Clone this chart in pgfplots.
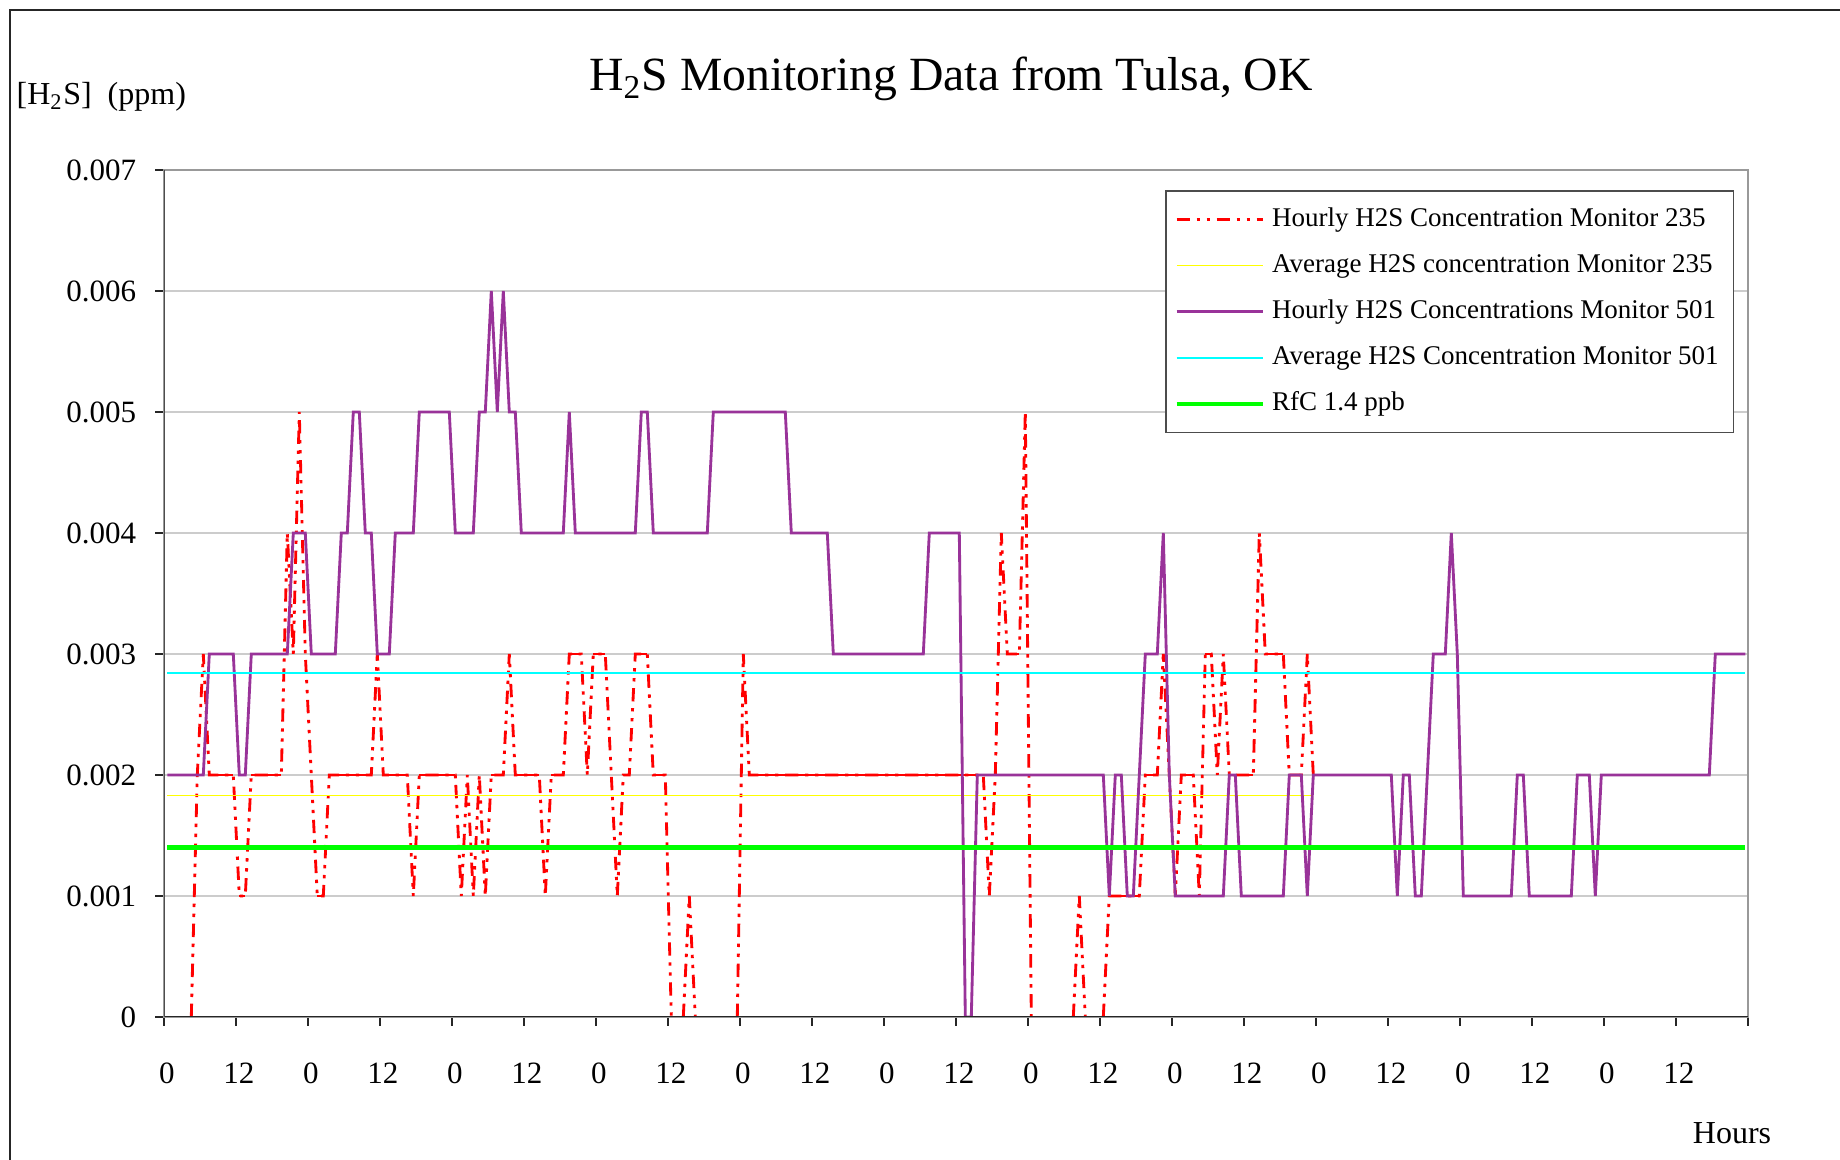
\documentclass[border=0pt]{standalone}
\usepackage{pgfplots}
\pgfplotsset{compat=1.18}
\usepackage{pgfplotstable}
\usepackage{fontspec}
\setmainfont{Liberation Serif}

\definecolor{excelred}{RGB}{255,0,0}
\definecolor{plum}{RGB}{153,51,153}
\definecolor{avgyellow}{RGB}{255,255,0}
\definecolor{avgcyan}{RGB}{0,255,255}
\definecolor{rfcgreen}{RGB}{0,255,0}

% h = hour index, r = Monitor 235 (ppm), p = Monitor 501 (ppm)
\pgfplotstableread[row sep=\\]{
h r p\\
0 nan 0.002\\ 1 nan 0.002\\ 2 nan 0.002\\ 3 nan 0.002\\ 4 0 0.002\\ 5 0.002 0.002\\ 6 0.003 0.002\\ 7 0.002 0.003\\
8 0.002 0.003\\ 9 0.002 0.003\\ 10 0.002 0.003\\ 11 0.002 0.003\\ 12 0.001 0.002\\ 13 0.001 0.002\\ 14 0.002 0.003\\ 15 0.002 0.003\\
16 0.002 0.003\\ 17 0.002 0.003\\ 18 0.002 0.003\\ 19 0.002 0.003\\ 20 0.004 0.003\\ 21 0.003 0.004\\ 22 0.005 0.004\\ 23 0.003 0.004\\
24 0.002 0.003\\ 25 0.001 0.003\\ 26 0.001 0.003\\ 27 0.002 0.003\\ 28 0.002 0.003\\ 29 0.002 0.004\\ 30 0.002 0.004\\ 31 0.002 0.005\\
32 0.002 0.005\\ 33 0.002 0.004\\ 34 0.002 0.004\\ 35 0.003 0.003\\ 36 0.002 0.003\\ 37 0.002 0.003\\ 38 0.002 0.004\\ 39 0.002 0.004\\
40 0.002 0.004\\ 41 0.001 0.004\\ 42 0.002 0.005\\ 43 0.002 0.005\\ 44 0.002 0.005\\ 45 0.002 0.005\\ 46 0.002 0.005\\ 47 0.002 0.005\\
48 0.002 0.004\\ 49 0.001 0.004\\ 50 0.002 0.004\\ 51 0.001 0.004\\ 52 0.002 0.005\\ 53 0.001 0.005\\ 54 0.002 0.006\\ 55 0.002 0.005\\
56 0.002 0.006\\ 57 0.003 0.005\\ 58 0.002 0.005\\ 59 0.002 0.004\\ 60 0.002 0.004\\ 61 0.002 0.004\\ 62 0.002 0.004\\ 63 0.001 0.004\\
64 0.002 0.004\\ 65 0.002 0.004\\ 66 0.002 0.004\\ 67 0.003 0.005\\ 68 0.003 0.004\\ 69 0.003 0.004\\ 70 0.002 0.004\\ 71 0.003 0.004\\
72 0.003 0.004\\ 73 0.003 0.004\\ 74 0.002 0.004\\ 75 0.001 0.004\\ 76 0.002 0.004\\ 77 0.002 0.004\\ 78 0.003 0.004\\ 79 0.003 0.005\\
80 0.003 0.005\\ 81 0.002 0.004\\ 82 0.002 0.004\\ 83 0.002 0.004\\ 84 0 0.004\\ 85 nan 0.004\\ 86 0 0.004\\ 87 0.001 0.004\\
88 0 0.004\\ 89 nan 0.004\\ 90 nan 0.004\\ 91 nan 0.005\\ 92 nan 0.005\\ 93 nan 0.005\\ 94 nan 0.005\\ 95 0 0.005\\
96 0.003 0.005\\ 97 0.002 0.005\\ 98 0.002 0.005\\ 99 0.002 0.005\\ 100 0.002 0.005\\ 101 0.002 0.005\\ 102 0.002 0.005\\ 103 0.002 0.005\\
104 0.002 0.004\\ 105 0.002 0.004\\ 106 0.002 0.004\\ 107 0.002 0.004\\ 108 0.002 0.004\\ 109 0.002 0.004\\ 110 0.002 0.004\\ 111 0.002 0.003\\
112 0.002 0.003\\ 113 0.002 0.003\\ 114 0.002 0.003\\ 115 0.002 0.003\\ 116 0.002 0.003\\ 117 0.002 0.003\\ 118 0.002 0.003\\ 119 0.002 0.003\\
120 0.002 0.003\\ 121 0.002 0.003\\ 122 0.002 0.003\\ 123 0.002 0.003\\ 124 0.002 0.003\\ 125 0.002 0.003\\ 126 0.002 0.003\\ 127 0.002 0.004\\
128 0.002 0.004\\ 129 0.002 0.004\\ 130 0.002 0.004\\ 131 0.002 0.004\\ 132 0.002 0.004\\ 133 0.002 0\\ 134 0.002 0\\ 135 0.002 0.002\\
136 0.002 0.002\\ 137 0.001 0.002\\ 138 0.002 0.002\\ 139 0.004 0.002\\ 140 0.003 0.002\\ 141 0.003 0.002\\ 142 0.003 0.002\\ 143 0.005 0.002\\
144 0 0.002\\ 145 nan 0.002\\ 146 nan 0.002\\ 147 nan 0.002\\ 148 nan 0.002\\ 149 nan 0.002\\ 150 nan 0.002\\ 151 0 0.002\\
152 0.001 0.002\\ 153 0 0.002\\ 154 nan 0.002\\ 155 nan 0.002\\ 156 0 0.002\\ 157 0.001 0.001\\ 158 0.001 0.002\\ 159 0.001 0.002\\
160 0.001 0.001\\ 161 0.001 0.001\\ 162 0.001 0.002\\ 163 0.002 0.003\\ 164 0.002 0.003\\ 165 0.002 0.003\\ 166 0.003 0.004\\ 167 0.002 0.002\\
168 0.001 0.001\\ 169 0.002 0.001\\ 170 0.002 0.001\\ 171 0.002 0.001\\ 172 0.001 0.001\\ 173 0.003 0.001\\ 174 0.003 0.001\\ 175 0.002 0.001\\
176 0.003 0.001\\ 177 0.002 0.002\\ 178 0.002 0.002\\ 179 0.002 0.001\\ 180 0.002 0.001\\ 181 0.002 0.001\\ 182 0.004 0.001\\ 183 0.003 0.001\\
184 0.003 0.001\\ 185 0.003 0.001\\ 186 0.003 0.001\\ 187 0.002 0.002\\ 188 0.002 0.002\\ 189 0.002 0.002\\ 190 0.003 0.001\\ 191 0.002 0.002\\
192 nan 0.002\\ 193 nan 0.002\\ 194 nan 0.002\\ 195 nan 0.002\\ 196 nan 0.002\\ 197 nan 0.002\\ 198 nan 0.002\\ 199 nan 0.002\\
200 nan 0.002\\ 201 nan 0.002\\ 202 nan 0.002\\ 203 nan 0.002\\ 204 nan 0.002\\ 205 nan 0.001\\ 206 nan 0.002\\ 207 nan 0.002\\
208 nan 0.001\\ 209 nan 0.001\\ 210 nan 0.002\\ 211 nan 0.003\\ 212 nan 0.003\\ 213 nan 0.003\\ 214 nan 0.004\\ 215 nan 0.003\\
216 nan 0.001\\ 217 nan 0.001\\ 218 nan 0.001\\ 219 nan 0.001\\ 220 nan 0.001\\ 221 nan 0.001\\ 222 nan 0.001\\ 223 nan 0.001\\
224 nan 0.001\\ 225 nan 0.002\\ 226 nan 0.002\\ 227 nan 0.001\\ 228 nan 0.001\\ 229 nan 0.001\\ 230 nan 0.001\\ 231 nan 0.001\\
232 nan 0.001\\ 233 nan 0.001\\ 234 nan 0.001\\ 235 nan 0.002\\ 236 nan 0.002\\ 237 nan 0.002\\ 238 nan 0.001\\ 239 nan 0.002\\
240 nan 0.002\\ 241 nan 0.002\\ 242 nan 0.002\\ 243 nan 0.002\\ 244 nan 0.002\\ 245 nan 0.002\\ 246 nan 0.002\\ 247 nan 0.002\\
248 nan 0.002\\ 249 nan 0.002\\ 250 nan 0.002\\ 251 nan 0.002\\ 252 nan 0.002\\ 253 nan 0.002\\ 254 nan 0.002\\ 255 nan 0.002\\
256 nan 0.002\\ 257 nan 0.002\\ 258 nan 0.003\\ 259 nan 0.003\\ 260 nan 0.003\\ 261 nan 0.003\\ 262 nan 0.003\\ 263 nan 0.003\\
}\hourly

% flat stretches of Monitor 235 (drawn solid, as each one-hour segment restarts the dash)
\pgfplotstableread[row sep=\\]{
h r\\
7 0.002\\ 11 0.002\\ 11 nan\\ 12 0.001\\ 13 0.001\\ 13 nan\\ 14 0.002\\ 19 0.002\\ 19 nan\\
25 0.001\\ 26 0.001\\ 26 nan\\ 27 0.002\\ 34 0.002\\ 34 nan\\ 36 0.002\\ 40 0.002\\ 40 nan\\
42 0.002\\ 48 0.002\\ 48 nan\\ 54 0.002\\ 56 0.002\\ 56 nan\\ 58 0.002\\ 62 0.002\\ 62 nan\\
64 0.002\\ 66 0.002\\ 66 nan\\ 67 0.003\\ 69 0.003\\ 69 nan\\ 71 0.003\\ 73 0.003\\ 73 nan\\
76 0.002\\ 77 0.002\\ 77 nan\\ 78 0.003\\ 80 0.003\\ 80 nan\\ 81 0.002\\ 83 0.002\\ 83 nan\\
97 0.002\\ 136 0.002\\ 136 nan\\ 140 0.003\\ 142 0.003\\ 142 nan\\ 157 0.001\\ 162 0.001\\ 162 nan\\
163 0.002\\ 165 0.002\\ 165 nan\\ 169 0.002\\ 171 0.002\\ 171 nan\\ 173 0.003\\ 174 0.003\\ 174 nan\\
177 0.002\\ 181 0.002\\ 181 nan\\ 183 0.003\\ 186 0.003\\ 186 nan\\ 187 0.002\\ 189 0.002\\
}\redflat

\begin{document}
\begin{tikzpicture}
\path[use as bounding box] (0pt,0pt) rectangle (552pt,348pt);
\draw[line width=0.6pt, black!85] (3pt,0pt) -- (3pt,345pt) -- (552pt,345pt);
\node[anchor=base, inner sep=0, font=\fontsize{14.3}{16}\selectfont] at (285.3pt,320.7pt) {H\textsubscript{2}S Monitoring Data from Tulsa, OK};
\node[anchor=base west, inner sep=0, font=\fontsize{9.6}{11}\selectfont] at (4.8pt,316.5pt) {[H\textsubscript{2}S]\ \ (ppm)};
\node[anchor=base, inner sep=0, font=\fontsize{9.6}{11}\selectfont] at (519.6pt,4.8pt) {Hours};

\begin{axis}[
  at={(49.29pt,42.9pt)}, anchor=south west,
  scale only axis, width=475.2pt, height=254.1pt,
  xmin=-0.5, xmax=263.5, ymin=0, ymax=0.007,
  xtick={-0.5,11.5,...,263.5},
  xticklabels={0,12,0,12,0,12,0,12,0,12,0,12,0,12,0,12,0,12,0,12,0,12,{}},
  ytick={0,0.001,0.002,0.003,0.004,0.005,0.006,0.007},
  yticklabels={0,0.001,0.002,0.003,0.004,0.005,0.006,0.007},
  scaled y ticks=false,
  tick pos=left, tick align=outside, major tick length=2.7pt,
  tick style={black!85, line width=0.5pt},
  tick label style={font=\fontsize{9.3}{11}\selectfont},
  xticklabel style={anchor=base, xshift=0.8pt, yshift=-17.2pt},
  yticklabel style={anchor=east, xshift=-2.2pt},
  ymajorgrids, grid style={gray!40, line width=0.35pt},
  axis line style={gray!80, line width=0.6pt},
  unbounded coords=jump,
  legend cell align=left,
  legend image code/.code={\draw[#1] (0pt,0pt) -- (26pt,0pt);},
  legend style={at={(0.632,0.976)}, anchor=north west, draw=black!70, line width=0.5pt,
    fill=white, font=\fontsize{8.1}{9.5}\selectfont, row sep=2.8pt, inner xsep=2.5pt, inner ysep=3pt},
]
\addplot[excelred, line width=0.85pt, dash pattern=on 4pt off 2pt on 1pt off 2pt on 1pt off 2pt]
  table[x=h, y=r] {\hourly};
\addlegendentry{Hourly H2S Concentration Monitor 235}
\addplot[excelred, line width=0.85pt, forget plot] table[x=h, y=r] {\redflat};
\addplot[avgyellow, line width=0.4pt] coordinates {(0,0.00183) (191,0.00183)};
\addlegendentry{Average H2S concentration Monitor 235}
\addplot[plum, line width=0.85pt] table[x=h, y=p] {\hourly};
\addlegendentry{Hourly H2S Concentrations Monitor 501}
\addplot[avgcyan, line width=0.65pt] coordinates {(0,0.00284) (263,0.00284)};
\addlegendentry{Average H2S Concentration Monitor 501}
\addplot[rfcgreen, line width=1.3pt] coordinates {(0,0.0014) (263,0.0014)};
\addlegendentry{RfC 1.4 ppb}
\draw[black!85, line width=0.6pt] (rel axis cs:0,1) -- (rel axis cs:0,0) -- (rel axis cs:1,0);
\end{axis}
\end{tikzpicture}
\end{document}
